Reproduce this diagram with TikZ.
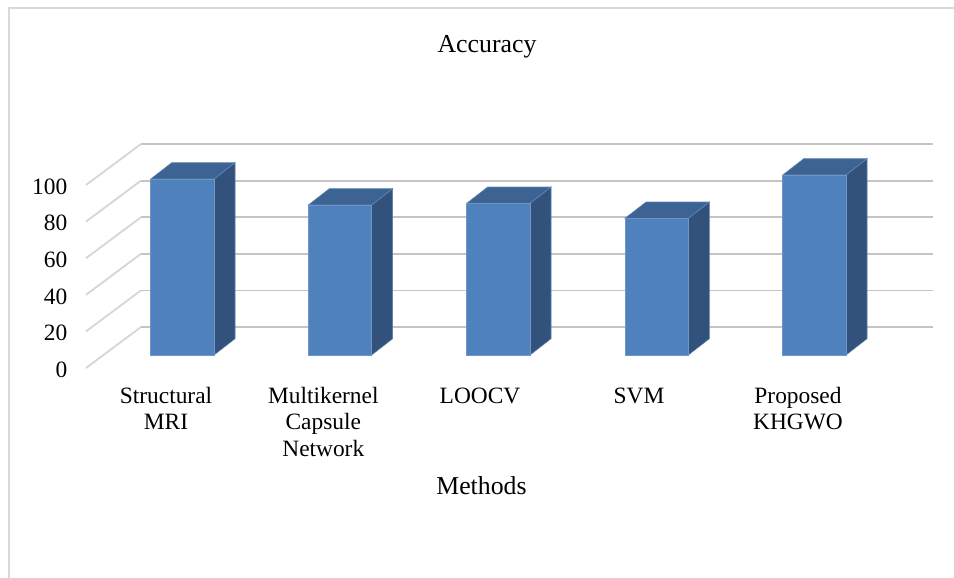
\documentclass[tikz,border=0pt]{standalone}
\usepackage{fontspec}
\setmainfont{Liberation Serif}
\definecolor{barfront}{RGB}{79,129,189}
\definecolor{bartop}{RGB}{60,99,146}
\definecolor{barside}{RGB}{50,82,124}
\definecolor{baredge}{RGB}{110,150,200}
\definecolor{gridc}{RGB}{196,196,196}
\definecolor{gridd}{RGB}{214,214,214}
\definecolor{framec}{RGB}{217,217,217}
\tikzset{
  gridline/.style={draw=gridc,line width=1.8pt},
  griddiag/.style={draw=gridd,line width=1.8pt},
  ticklab/.style={anchor=base east,inner sep=0pt,font=\fontsize{23.4}{26.5}\selectfont},
  catlab/.style={anchor=base,inner sep=0pt,font=\fontsize{23.4}{26.5}\selectfont},
  titlelab/.style={anchor=base,inner sep=0pt,font=\fontsize{25.8}{30}\selectfont},
  frontface/.style={fill=barfront,draw=baredge,line width=0.6pt},
  topface/.style={fill=bartop,draw=baredge!70!bartop,line width=0.6pt},
  sideface/.style={fill=barside,draw=baredge!60!barside,line width=0.6pt}
}
\begin{document}
\begin{tikzpicture}[x=1pt,y=-1pt]
\useasboundingbox (0,0) rectangle (954,578);
\fill[white] (0,0) rectangle (954,578);
% frame
\draw[framec,line width=1.5pt] (9,578) -- (9,8) -- (954,8);
% title
\node[titlelab] (title) at (487,52.5) {Accuracy};
% grid
\foreach \v/\n in {0/g0,20/g20,40/g40,60/g60,80/g80,100/g100}{
  \coordinate (\n f) at (86,{368-1.83*\v});
  \coordinate (\n b) at (141,{368-1.83*\v-41});
  \coordinate (\n e) at (933,{368-1.83*\v-41});
  \draw[griddiag] (\n f) -- (\n b);
  \draw[gridline] (\n b) -- (\n e);
  \node[ticklab] (t\n) at (67.5,{368-1.83*\v+9.3}) {\v};
}
% bars
\foreach \x/\t/\n in {150.7/179/b1,308.3/205/b2,466.7/203.3/b3,625/218.3/b4,782.7/175/b5}{
  \coordinate (\n tl) at (\x,\t);
  \coordinate (\n tr) at ({\x+63.3},\t);
  \coordinate (\n br) at ({\x+63.3},355);
  \coordinate (\n bl) at (\x,355);
  \coordinate (\n btl) at ({\x+21},{\t-16.3});
  \coordinate (\n btr) at ({\x+84.3},{\t-16.3});
  \coordinate (\n bbr) at ({\x+84.3},338.7);
  \draw[sideface] (\n tr) -- (\n btr) -- (\n bbr) -- (\n br) -- cycle;
  \draw[topface] (\n tl) -- (\n btl) -- (\n btr) -- (\n tr) -- cycle;
  \draw[frontface] (\n tl) rectangle (\n br);
}
% category labels
\node[catlab] (c1) at (166,403.3) {\begin{tabular}[t]{@{}c@{}}Structural\\MRI\end{tabular}};
\node[catlab] (c2) at (323.3,403.3) {\begin{tabular}[t]{@{}c@{}}Multikernel\\Capsule\\Network\end{tabular}};
\node[catlab] (c3) at (480,403.3) {LOOCV};
\node[catlab] (c4) at (639,403.3) {SVM};
\node[catlab] (c5) at (798,403.3) {\begin{tabular}[t]{@{}c@{}}Proposed\\KHGWO\end{tabular}};
\node[titlelab] (xtitle) at (481.5,494.5) {Methods};
\end{tikzpicture}
\end{document}
